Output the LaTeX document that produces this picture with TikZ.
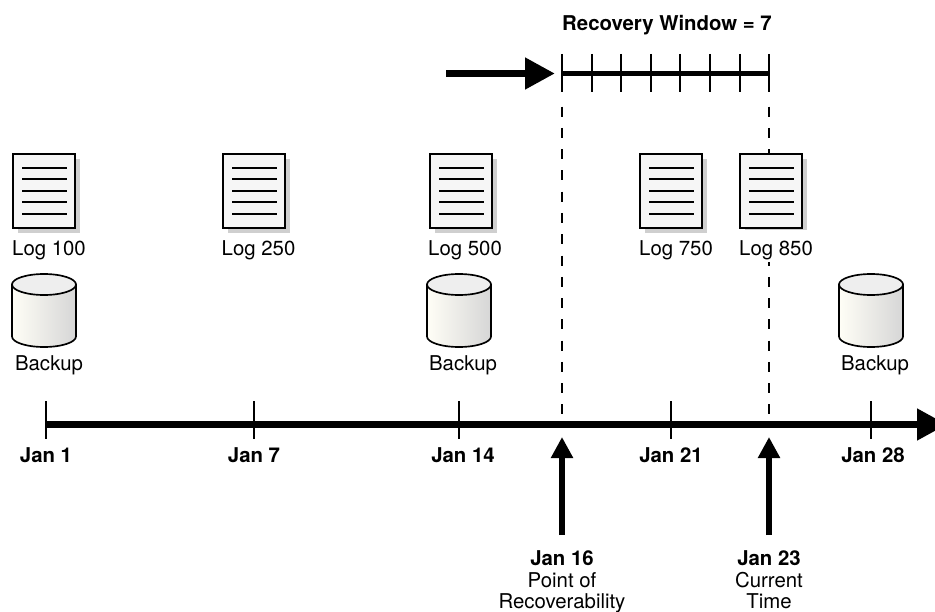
\documentclass[tikz,border=0pt]{standalone}
\usepackage{fontspec}
\setmainfont{TeX Gyre Heros}
\usetikzlibrary{arrows.meta}
\definecolor{pagefill}{HTML}{F6F6F6}
\definecolor{pageshadow}{HTML}{CFCFCF}
\definecolor{disktop}{HTML}{EEEEEE}
\definecolor{diskleft}{HTML}{FFFEF6}
\definecolor{diskright}{HTML}{D6D6D6}
\tikzset{
    lbl/.style={anchor=base,inner sep=0pt,font=\fontsize{11.6}{13}\selectfont},
    boldlbl/.style={lbl,font=\fontsize{11.6}{13}\selectfont\bfseries},
    tick/.style={line width=.8pt},
    dashline/.style={line width=.6pt,dash pattern=on 5.7pt off 6.4pt},
    bigarrow/.style={line width=4.4pt,-{Triangle[length=17pt,width=17pt]}},
    uparrow/.style={line width=3.4pt,-{Triangle[length=12pt,width=12pt]}},
    logpage/.pic={
        \fill[pageshadow] (5,5) rectangle (67,79);
        \draw[line width=.95pt,fill=pagefill] (0,0) rectangle (62,74);
        \foreach \y in {14,25,37,48,60}
            \draw[line width=.6pt] (9,\y) -- (54,\y);
    },
    backupdisk/.pic={
        \draw[line width=.95pt,left color=diskleft,right color=diskright] (0,10.5) -- (0,62.5) arc[start angle=180,end angle=0,x radius=32,y radius=10.5] -- (64,10.5) -- cycle;
        \draw[line width=.95pt,fill=disktop] (32,10.5) ellipse[x radius=32,y radius=10.5];
    }
}
\begin{document}
\begin{tikzpicture}[x=0.02cm,y=-0.02cm]
    \useasboundingbox (0,0) rectangle (935,611);
    % dashed guides go first, pages sit on top
    \coordinate (guideA) at (562,106.7);
    \coordinate (guideB) at (769,106.7);
    \coordinate (axisA) at (562,416);
    \coordinate (axisB) at (769,416);
    \draw[dashline] (guideA) -- (axisA);
    \draw[dashline] (guideB) -- (axisB);
    % time axis
    \coordinate (axisstart) at (46,424.5);
    \coordinate (axisend) at (947,424.5);
    \draw[bigarrow] (axisstart) -- (axisend);
    \foreach \name/\x in {jan1/46,jan7/254,jan14/459,jan21/671,jan28/871}{
        \coordinate (\name top) at (\x,401);
        \coordinate (\name bot) at (\x,439);
        \draw[tick] (\name top) -- (\name bot);
    }
    \node[boldlbl] (jan1) at (46,462) {Jan 1};
    \node[boldlbl] (jan7) at (254,462) {Jan 7};
    \node[boldlbl] (jan14) at (463,462) {Jan 14};
    \node[boldlbl] (jan21) at (671,462) {Jan 21};
    \node[boldlbl] (jan28) at (873,462) {Jan 28};
    % log pages
    \pic at (13,154) {logpage};
    \pic at (223,154) {logpage};
    \pic at (430,154) {logpage};
    \pic at (640,154) {logpage};
    \pic at (740,154) {logpage};
    \node[lbl] (log100) at (49,255) {Log 100};
    \node[lbl] (log250) at (258.5,255) {Log 250};
    \node[lbl] (log500) at (465,255) {Log 500};
    \node[lbl] (log750) at (676,255) {Log 750};
    \node[lbl,fill=white,outer sep=0pt,text depth=4pt,text height=14pt] (log850) at (776,255) {Log 850};
    % backups
    \pic at (12,274) {backupdisk};
    \pic at (427,274) {backupdisk};
    \pic at (839,274) {backupdisk};
    \node[lbl] (backup1) at (49,370) {Backup};
    \node[lbl] (backup2) at (463,370) {Backup};
    \node[lbl] (backup3) at (875,370) {Backup};
    % recovery window
    \node[boldlbl] (window) at (667,31) {Recovery Window = 7};
    \coordinate (winstart) at (562,73.5);
    \coordinate (winend) at (769,73.5);
    \draw[line width=3pt] (winstart) -- (winend);
    \foreach \x in {562,592,621,651,680,710,740,769}
        \draw[tick] (\x,54) -- (\x,92);
    \coordinate (feedstart) at (446,73.5);
    \coordinate (feedend) at (555,73.5);
    \draw[bigarrow] (feedstart) -- (feedend);
    % pointers from below
    \coordinate (ptrAfoot) at (562,535);
    \coordinate (ptrAhead) at (562,437);
    \coordinate (ptrBfoot) at (769,535);
    \coordinate (ptrBhead) at (769,437);
    \draw[uparrow] (ptrAfoot) -- (ptrAhead);
    \draw[uparrow] (ptrBfoot) -- (ptrBhead);
    \node[boldlbl] (jan16) at (562,565) {Jan 16};
    \node[lbl] (point) at (562,587) {Point of};
    \node[lbl] (recover) at (562,608) {Recoverability};
    \node[boldlbl] (jan23) at (769,565) {Jan 23};
    \node[lbl] (current) at (769,587) {Current};
    \node[lbl] (time) at (769,608) {Time};
\end{tikzpicture}
\end{document}
